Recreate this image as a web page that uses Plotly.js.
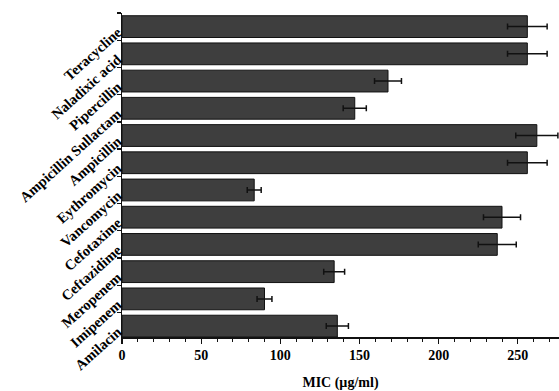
<!DOCTYPE html>
<html>
<head>
<meta charset="utf-8">
<script src="https://cdn.plot.ly/plotly-3.0.1.min.js"></script>
<style>html,body{margin:0;padding:0;background:#fff;}#chart{width:559px;height:391px;}</style>
</head>
<body>
<div id="chart"></div>
<script>
// Categories listed top to bottom
const drugs = ["Teracycline","Naladixic acid","Pipercillin","Ampicillin Sullactam","Ampicillin","Eythromycin","Vancomycin","Cefotaxime","Ceftazidime","Meropenem","Imipenem","Amilacin"];
const micValues = [256, 256, 168, 147, 262, 256, 83.5, 240, 237, 134, 90, 136];
const micErrors = [12.5, 12.5, 8.5, 7.3, 13.3, 12.5, 4.4, 11.7, 12, 6.6, 4.7, 7];
const xTickValues = [0, 50, 100, 150, 200, 250];

const trace = {
  type: 'bar',
  orientation: 'h',
  y: drugs,
  x: micValues,
  width: 0.8,
  marker: {color: '#3e3e3e', line: {color: '#111', width: 1}},
  error_x: {type: 'data', array: micErrors, visible: true, color: '#111', thickness: 1.5, width: 3}
};

const layout = {
  width: 559, height: 391,
  margin: {l: 122, r: 0, t: 13, b: 54},
  paper_bgcolor: '#fff', plot_bgcolor: '#fff',
  showlegend: false,
  xaxis: {
    range: [0, 276],
    tickvals: xTickValues,
    ticks: 'outside', ticklen: 5, tickwidth: 1.3, tickcolor: '#111',
    minor: {dtick: 10, ticks: 'outside', ticklen: 3, tickwidth: 1, tickcolor: '#111'},
    showline: true, linecolor: '#111', linewidth: 1.5,
    showgrid: false, zeroline: false,
    tickfont: {family: 'Liberation Serif', size: 14, color: '#000', weight: 'bold'},
    title: {text: 'MIC (µg/ml)', font: {family: 'Liberation Serif', size: 14, color: '#000', weight: 'bold'}, standoff: 17}
  },
  yaxis: {
    type: 'category',
    range: [11.4, -0.5],
    tickson: 'boundaries',
    ticks: 'outside', ticklen: 4, tickwidth: 1.3, tickcolor: '#111',
    showline: true, linecolor: '#111', linewidth: 1.5,
    showgrid: false, zeroline: false,
    tickangle: -42,
    ticklabelshift: -4,
    tickfont: {family: 'Liberation Serif', size: 14.5, color: '#000', weight: 'bold'}
  }
};

Plotly.newPlot('chart', [trace], layout, {displayModeBar: false, staticPlot: true});
</script>
</body>
</html>
